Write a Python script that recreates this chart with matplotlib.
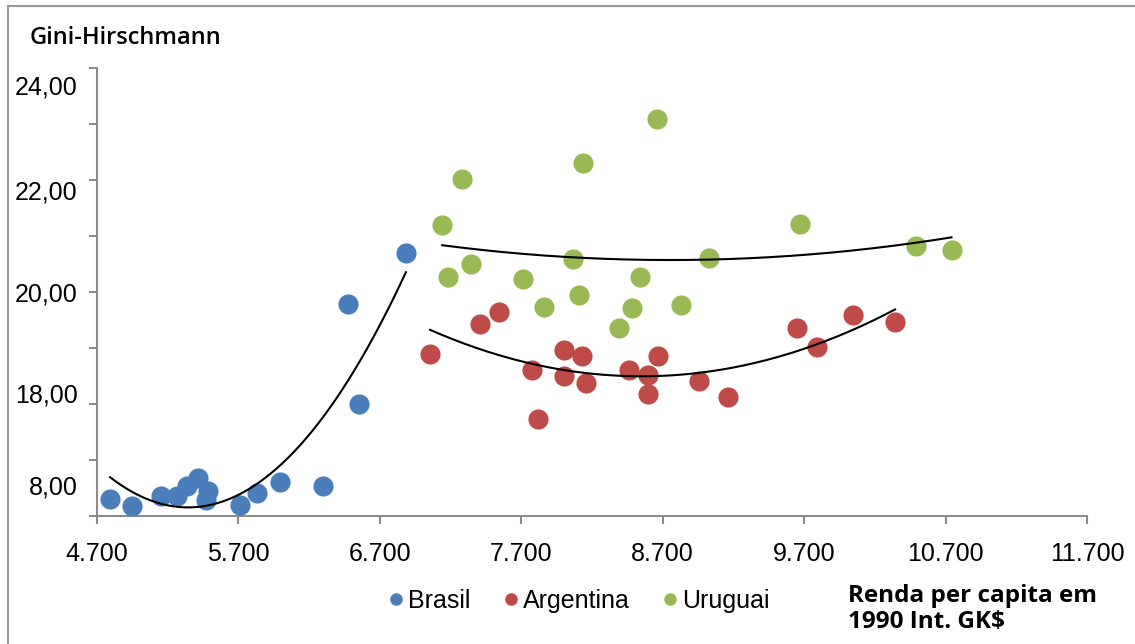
import numpy as np
import matplotlib
matplotlib.use('Agg')
import matplotlib.pyplot as plt
from matplotlib.lines import Line2D

plt.rcParams['font.family'] = ['Liberation Sans', 'DejaVu Sans']

# Renda per capita (1990 Int. GK$) and Gini-Hirschmann index
brasil_x = [4792, 4946, 5152, 5267, 5338, 5416, 5485, 5473, 5714, 5833,
            5991, 6301, 6476, 6553, 6884]
brasil_y = [16.31, 16.17, 16.36, 16.36, 16.53, 16.67, 16.45, 16.28, 16.20, 16.41,
            16.61, 16.53, 19.79, 18.00, 20.69]

argentina_x = [7055, 7409, 7543, 8004, 8128, 7779, 8004, 8159, 7815, 8460,
               8594, 8668, 8594, 8958, 9164, 9649, 9791, 10048, 10343]
argentina_y = [18.89, 19.43, 19.64, 18.96, 18.86, 18.60, 18.50, 18.37, 17.74, 18.60,
               18.52, 18.86, 18.18, 18.41, 18.13, 19.36, 19.01, 19.59, 19.47]

uruguai_x = [8662, 8135, 7281, 7141, 9670, 10492, 10742, 8069, 9025, 7344,
             7183, 7710, 8540, 8107, 7859, 8483, 8830, 8392]
uruguai_y = [23.09, 22.31, 22.01, 21.20, 21.21, 20.83, 20.75, 20.59, 20.61, 20.50,
             20.26, 20.24, 20.26, 19.94, 19.73, 19.72, 19.76, 19.36]

x_ticks = [4700, 5700, 6700, 7700, 8700, 9700, 10700, 11700]
x_tick_labels = ['4.700', '5.700', '6.700', '7.700', '8.700', '9.700', '10.700', '11.700']
y_label_pos = [23.70, 21.82, 20.0, 18.2, 16.55]
y_tick_labels = ['24,00', '22,00', '20,00', '18,00', '8,00']

series = [
    ('Brasil', brasil_x, brasil_y, '#4a7ebb'),
    ('Argentina', argentina_x, argentina_y, '#be4b48'),
    ('Uruguai', uruguai_x, uruguai_y, '#98b954'),
]

fig = plt.figure(figsize=(11.35, 6.44), dpi=100)
ax = fig.add_axes([97 / 1135, 1 - 516 / 644, 990 / 1135, 448 / 644])

handles = []
for name, xs, ys, color in series:
    ax.plot(xs, ys, 'o', color=color, markersize=14.5, markeredgewidth=0, zorder=3)
    # polynomial trend line (order 2), like the spreadsheet one
    coef = np.polyfit(xs, ys, 2)
    xx = np.linspace(min(xs), max(xs), 200)
    ax.plot(xx, np.polyval(coef, xx), color='black', linewidth=1.5, zorder=4)
    handles.append(Line2D([], [], marker='o', linestyle='', color=color,
                          markersize=9, markeredgewidth=0, label=name))

ax.set_xlim(4700, 11700)
ax.set_ylim(16, 24)

ax.set_xticks(x_ticks)
ax.set_xticklabels(x_tick_labels)
ax.set_yticks(np.arange(16, 25, 1))
ax.set_yticklabels([])
# the value labels sit between the tick marks, so put them on minor ticks
ax.yaxis.remove_overlapping_locs = False
ax.set_yticks(y_label_pos, minor=True)
ax.set_yticklabels(y_tick_labels, minor=True)

for side in ['top', 'right']:
    ax.spines[side].set_visible(False)
for side in ['left', 'bottom']:
    ax.spines[side].set_color('#8c8c8c')
    ax.spines[side].set_linewidth(1.5)

ax.tick_params(axis='both', which='major', direction='out', length=6, width=1.5,
               color='#8c8c8c', labelsize=18, pad=13)
ax.tick_params(axis='y', which='minor', length=0, labelsize=18, pad=14)

fig.text(30 / 1135, 1 - 38 / 644, 'Gini-Hirschmann', fontsize=17,
         family='Open Sans', fontweight='semibold', va='center', ha='left')
fig.text(848 / 1135, 1 - 609 / 644, 'Renda per capita em\n1990 Int. GK$',
         fontsize=17.5, family='Open Sans', fontweight='bold', va='center', ha='left',
         linespacing=1.1)

fig.legend(handles=handles, loc='center', bbox_to_anchor=(578 / 1135, 1 - 601 / 644),
           ncol=3, frameon=False, handletextpad=0.1, columnspacing=1.2,
           handlelength=0.8, prop={'size': 18})

# outer frame lines at top and left
fig.add_artist(Line2D([8 / 1135, 1], [1 - 6 / 644, 1 - 6 / 644], color='#9a9a9a', linewidth=1.5))
fig.add_artist(Line2D([8 / 1135, 8 / 1135], [0, 1 - 6 / 644], color='#9a9a9a', linewidth=1.5))

fig.savefig('out.png', dpi=100)
